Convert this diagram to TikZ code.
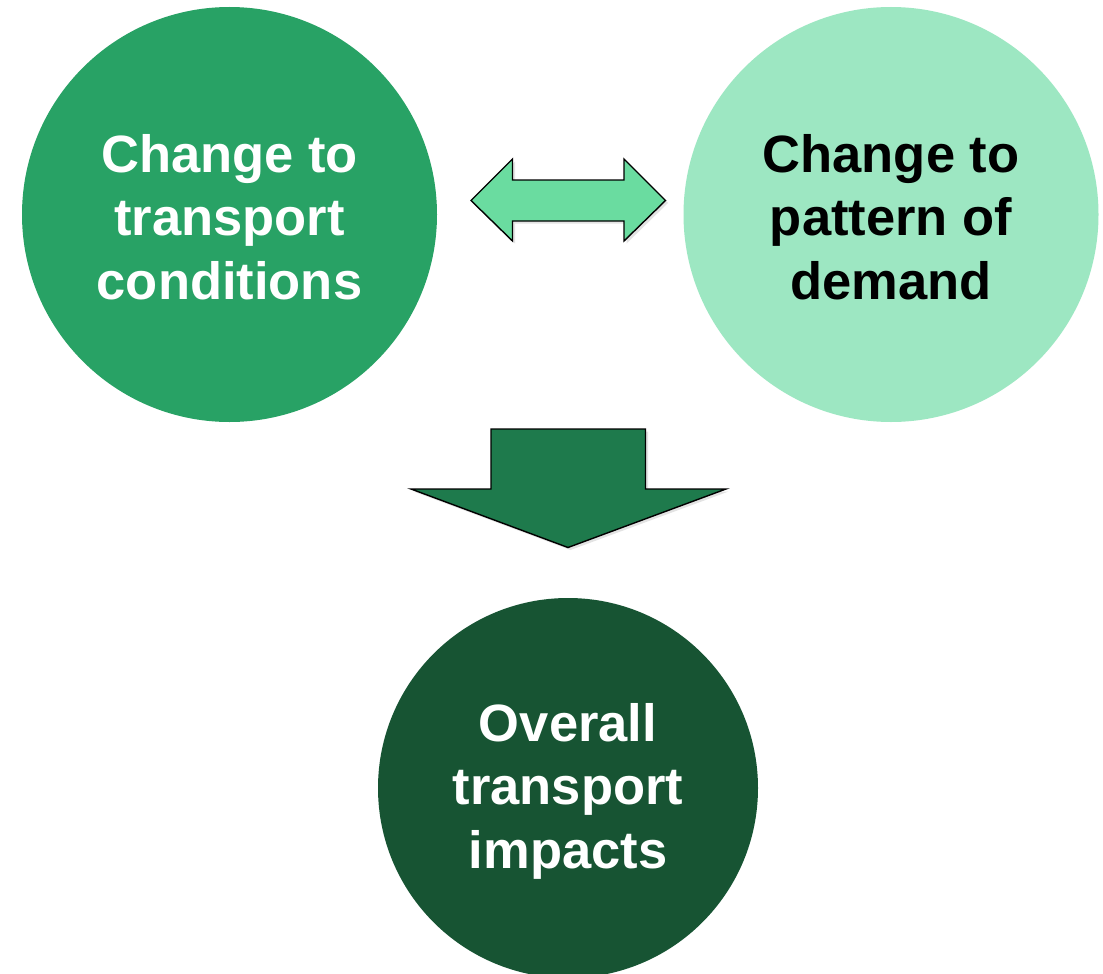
\documentclass[tikz,border=0pt]{standalone}
\usepackage{fontspec}
\setmainfont{Liberation Sans}
\usetikzlibrary{shadows}
\definecolor{cmid}{HTML}{28A265}
\definecolor{clight}{HTML}{9DE7C2}
\definecolor{cdark}{HTML}{175433}
\definecolor{cboth}{HTML}{6ADCA0}
\definecolor{cdown}{HTML}{1E7A4C}
\tikzset{
  disc/.style={circle, inner sep=0pt},
  caption/.style={inner sep=0pt, align=center,
    font=\fontsize{52.5}{63.5}\selectfont\bfseries},
  blockarrow/.style={draw=black, line width=1.4pt, line join=miter,
    drop shadow={opacity=0.22, shadow xshift=2.5pt, shadow yshift=-2.5pt}},
}
\begin{document}
\begin{tikzpicture}[x=1pt, y=-1pt]
\useasboundingbox (0,0) rectangle (1103,974);
\fill[white] (0,0) rectangle (1103,974);

% the three circles and their captions
\node[disc, fill=cmid, minimum size=415pt] (cond) at (229.5,214.5) {};
\node[caption, text=white] (condtext) at (229.5,217)
  {Change to\\transport\\conditions};
\node[disc, fill=clight, minimum size=415pt] (dem) at (891,214.5) {};
\node[caption, text=black] (demtext) at (891,217)
  {Change to\\pattern of\\demand};
\node[disc, fill=cdark, minimum size=380pt] (imp) at (568,788) {};
\node[caption, text=white] (imptext) at (568,791)
  {Overall\\transport\\impacts};

% two-way block arrow between the top circles
\draw[blockarrow, fill=cboth]
  (471,200.5) -- (512.5,159) -- (512.5,180) -- (624,180) -- (624,159)
  -- (665.5,200.5) -- (624,241) -- (624,221) -- (512.5,221) -- (512.5,241)
  -- cycle;

% downward block arrow towards the bottom circle
\draw[blockarrow, fill=cdown]
  (491,429) -- (645.5,429) -- (645.5,489) -- (726,489) -- (568,547.5)
  -- (411,489) -- (491,489) -- cycle;
\end{tikzpicture}
\end{document}
